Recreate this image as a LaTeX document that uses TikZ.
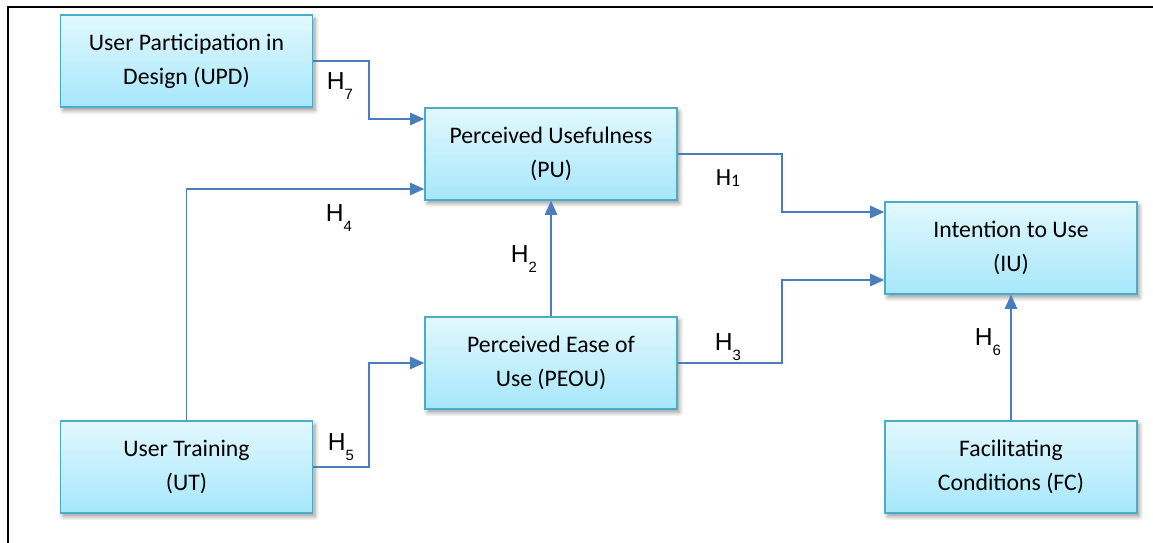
\documentclass[tikz,border=0pt]{standalone}
\usepackage{fontspec}
\setmainfont{Carlito}
\newfontfamily\hypfont{Liberation Sans}
\usetikzlibrary{arrows.meta, shadows.blur}
\definecolor{boxLine}{HTML}{4BACC6}
\definecolor{boxTop}{HTML}{E2F8FE}
\definecolor{boxBottom}{HTML}{A6E7FB}
\definecolor{linkBlue}{HTML}{4A7EBB}
\newcommand{\hyp}[1]{{\hypfont\fontsize{14}{14}\selectfont H\raisebox{-5.5pt}{\fontsize{8.5}{8.5}\selectfont #1}}}
\newcommand{\hypu}[1]{{\fontsize{14}{14}\selectfont H\raisebox{-1pt}{\fontsize{10}{10}\selectfont #1}}}

\begin{document}
\begin{tikzpicture}[
    construct/.style={draw=boxLine, line width=0.8pt, top color=boxTop, bottom color=boxBottom,
        minimum width=5.04cm, minimum height=1.84cm, inner sep=0pt, align=center,
        font=\fontsize{13.5}{19.4}\selectfont,
        blur shadow={shadow xshift=0.05cm, shadow yshift=-0.07cm, shadow blur steps=6,
            shadow blur radius=0.08cm, shadow opacity=40}},
    link/.style={linkBlue, line width=0.9pt, -{Triangle[length=8pt, width=7pt]}},
    hlabel/.style={inner sep=0pt}
]
    \useasboundingbox (0,0) rectangle (23.06,10.86);
    % frame
    \draw[line width=1.6pt] (0.16,0) -- (0.16,10.72) -- (23.06,10.72);

    % constructs
    \node[construct] (UPD) at (3.73,9.64) {User Participation in\\Design (UPD)};
    \node[construct] (PU) at (11.02,7.78) {Perceived Usefulness\\(PU)};
    \node[construct] (IU) at (20.22,5.90) {Intention to Use\\(IU)};
    \node[construct] (PEOU) at (11.02,3.60) {Perceived Ease of\\Use (PEOU)};
    \node[construct] (UT) at (3.73,1.52) {User Training\\(UT)};
    \node[construct] (FC) at (20.22,1.52) {Facilitating\\Conditions (FC)};

    % hypotheses
    \draw[link] (PU.east) -- ++(2.08,0) |- ([yshift=0.72cm]IU.west);
    \draw[link] (PEOU.north) -- (PU.south);
    \draw[link] (PEOU.east) -- ++(2.08,0) |- ([yshift=-0.64cm]IU.west);
    \draw[link] (UT.north) |- ([yshift=-0.7cm]PU.west);
    \draw[link] (UT.east) -- ++(1.12,0) |- (PEOU.west);
    \draw[link] (FC.north) -- (IU.south);
    \draw[link] (UPD.east) -- ++(1.12,0) |- ([yshift=0.7cm]PU.west);

    \node[hlabel] (h1) at (14.56,7.30) {\hypu{1}};
    \node[hlabel] (h2) at (10.48,5.68) {\hyp{2}};
    \node[hlabel] (h3) at (14.56,3.92) {\hyp{3}};
    \node[hlabel] (h4) at (6.78,6.50) {\hyp{4}};
    \node[hlabel] (h5) at (6.82,1.92) {\hyp{5}};
    \node[hlabel] (h6) at (19.76,4.02) {\hyp{6}};
    \node[hlabel] (h7) at (6.80,9.14) {\hyp{7}};
\end{tikzpicture}
\end{document}
